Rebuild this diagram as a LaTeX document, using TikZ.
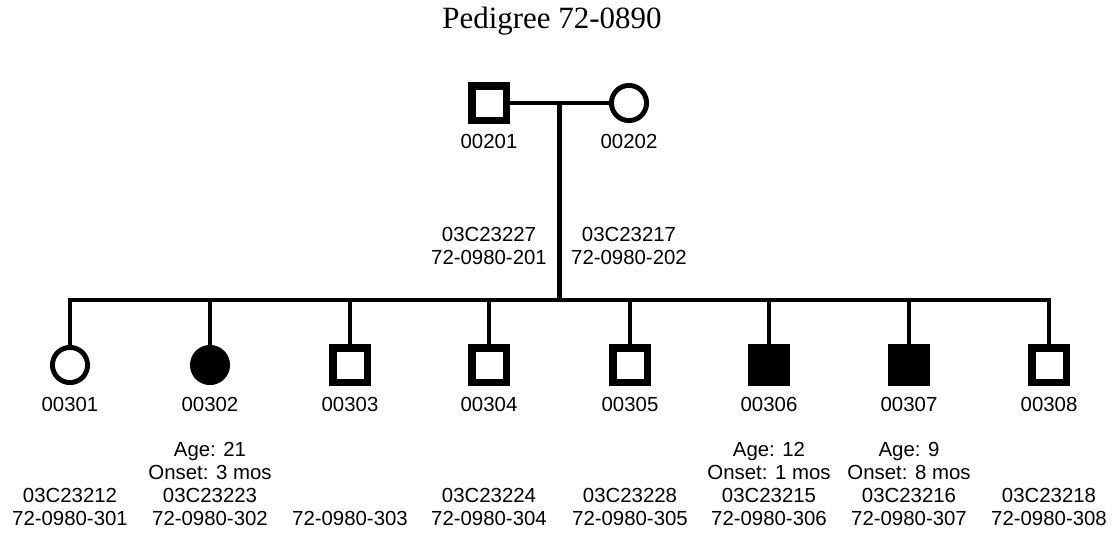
\documentclass[tikz,border=0pt]{standalone}
\usepackage{fontspec}
\setmainfont{Liberation Serif}
\setsansfont{Liberation Sans}
\usetikzlibrary{calc}

\tikzset{
  male/.style={draw,rectangle,line width=5pt,minimum size=24.2pt,inner sep=0pt},
  female/.style={draw,circle,line width=3.5pt,minimum size=25pt,inner sep=0pt},
  affmale/.style={male,fill=black},
  afffemale/.style={female,fill=black},
  tag/.style={font=\sffamily\fontsize{14.5pt}{16.4pt}\selectfont,inner sep=0pt,align=center},
  link/.style={line width=3.2pt}
}

\begin{document}
\begin{tikzpicture}[x=0.025cm,y=-0.025cm] % one unit = one pixel, y downwards
\useasboundingbox (0,0) rectangle (1118,533);
\node[font=\fontsize{22pt}{26pt}\selectfont,anchor=base,inner sep=0pt] (title) at (552,28) {Pedigree 72-0890};

% parents
\node[male] (p201) at (489,103) {};
\node[female] (p202) at (629,103) {};
\node[tag,anchor=base] (n201) at (489,148) {00201};
\node[tag,anchor=base] (n202) at (629,148) {00202};
\node[tag,anchor=south] (d201) at (489,265) {03C23227\\72-0980-201};
\node[tag,anchor=south] (d202) at (629,265) {03C23217\\72-0980-202};

% children: id / x / symbol / notes
\foreach \i/\x/\s/\t in {
  301/70/female/{03C23212\\72-0980-301},
  302/210/afffemale/{Age: 21\\Onset: 3 mos\\03C23223\\72-0980-302},
  303/350/male/{72-0980-303},
  304/489/male/{03C23224\\72-0980-304},
  305/630/male/{03C23228\\72-0980-305},
  306/769/affmale/{Age: 12\\Onset: 1 mos\\03C23215\\72-0980-306},
  307/909/affmale/{Age: 9\\Onset: 8 mos\\03C23216\\72-0980-307},
  308/1049/male/{03C23218\\72-0980-308}} {
  \node[\s] (c\i) at (\x,365) {};
  \node[tag,anchor=base] (n\i) at (\x,411) {00\i};
  \node[tag,anchor=south] (d\i) at (\x,526) {\t};
}

% mating line and sibship line
\coordinate (mid) at ($(p201.east)!0.5!(p202.west)$);
\coordinate (row) at (0,300);
\coordinate (sib) at (mid |- row);
\draw[link] (p201.east) -- (p202.west);
\draw[link] (mid) -- (sib);
\draw[link] (c301.north) |- (sib) -| (c308.north);
\foreach \i in {302,...,307} { \draw[link] (c\i.north) -- (c\i.north |- sib); }
\end{tikzpicture}
\end{document}
